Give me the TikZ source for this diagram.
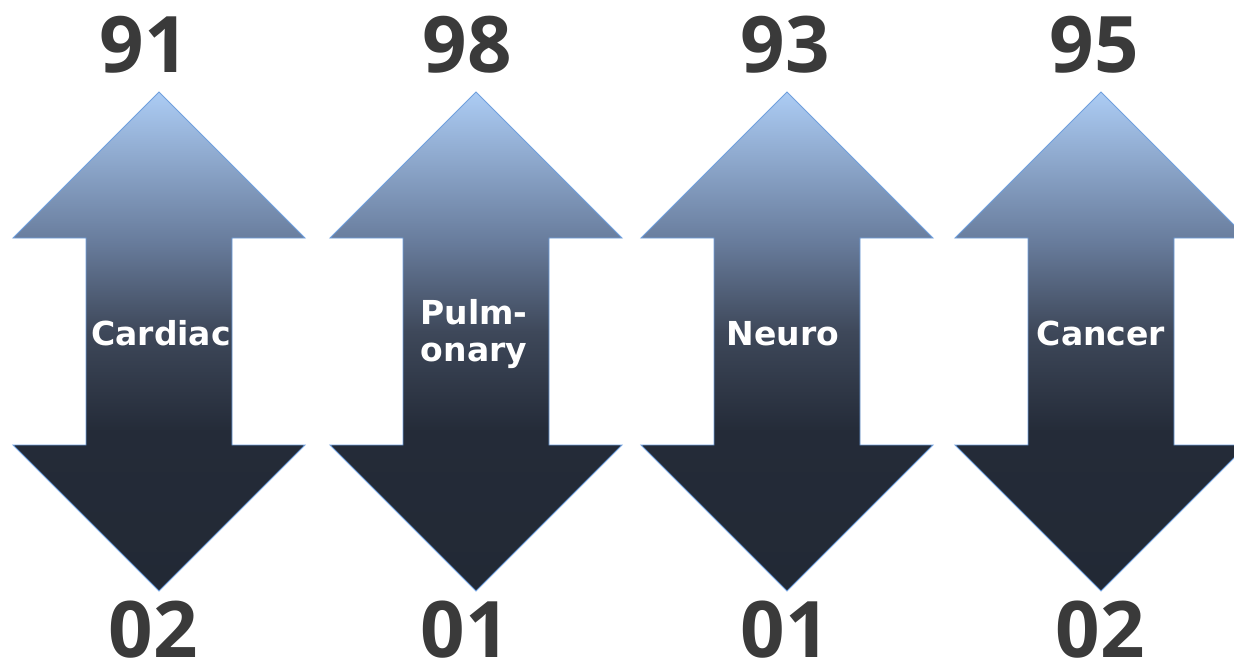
\documentclass[tikz,border=0pt]{standalone}
\usepackage{fontspec}
\usepackage{tikz}
\usetikzlibrary{positioning}
\newfontfamily\numfont{Open Sans}
\newfontfamily\labfont{DejaVu Sans}
\definecolor{numgray}{RGB}{58,58,58}
\definecolor{arrowedge}{RGB}{112,160,222}
\definecolor{shadeA}{RGB}{34,41,53}
\definecolor{shadeB}{RGB}{36,43,56}
\definecolor{shadeC}{RGB}{62,72,90}
\definecolor{shadeD}{RGB}{104,124,156}
\definecolor{shadeE}{RGB}{172,204,244}
\pgfdeclareverticalshading{dualshade}{100bp}{color(0bp)=(shadeA); color(25bp)=(shadeA); color(41bp)=(shadeB); color(51bp)=(shadeC); color(60bp)=(shadeD); color(75bp)=(shadeE); color(100bp)=(shadeE)}
\newcommand{\dualarrow}{(0,92) -- (146,238) -- (73,238) -- (73,445) -- (146,445) -- (0,591) -- (-146,445) -- (-73,445) -- (-73,238) -- (-146,238) -- cycle}

\begin{document}
\begin{tikzpicture}[x=1pt,y=-1pt,
    arrowbody/.style={draw=arrowedge,line width=0.9pt,line join=miter,shade,shading=dualshade},
    numtop/.style={anchor=base,text=numgray,inner sep=0pt,font=\numfont\bfseries\fontsize{78}{86}\selectfont},
    numbot/.style={numtop},
    arrowlabel/.style={text=white,inner sep=0pt,align=center,font=\labfont\bfseries\fontsize{33}{37}\selectfont}]
\clip (0,0) rectangle (1234,665);
% === Cardiac ===
\begin{scope}[shift={(159,0)}]
    \path[arrowbody] \dualarrow;
    \node[arrowlabel,anchor=base] (cardiac) at (2,345) {Cardiac};
    \node[numtop] (cardiac-up) at (-15,72) {91};
    \node[numbot] (cardiac-dn) at (-6,657) {02};
\end{scope}
% === Pulmonary ===
\begin{scope}[shift={(476,0)}]
    \path[arrowbody] \dualarrow;
    \node[arrowlabel] (pulmonary) at (-2,334) {Pulm-\\onary};
    \node[numtop] (pulmonary-up) at (-9,72) {98};
    \node[numbot] (pulmonary-dn) at (-11,657) {01};
\end{scope}
% === Neuro ===
\begin{scope}[shift={(787,0)}]
    \path[arrowbody] \dualarrow;
    \node[arrowlabel,anchor=base] (neuro) at (-4,345) {Neuro};
    \node[numtop] (neuro-up) at (-2,72) {93};
    \node[numbot] (neuro-dn) at (-2,657) {01};
\end{scope}
% === Cancer ===
\begin{scope}[shift={(1101,0)}]
    \path[arrowbody] \dualarrow;
    \node[arrowlabel,anchor=base] (cancer) at (0,345) {Cancer};
    \node[numtop] (cancer-up) at (-7,72) {95};
    \node[numbot] (cancer-dn) at (-1,657) {02};
\end{scope}
\end{tikzpicture}
\end{document}
